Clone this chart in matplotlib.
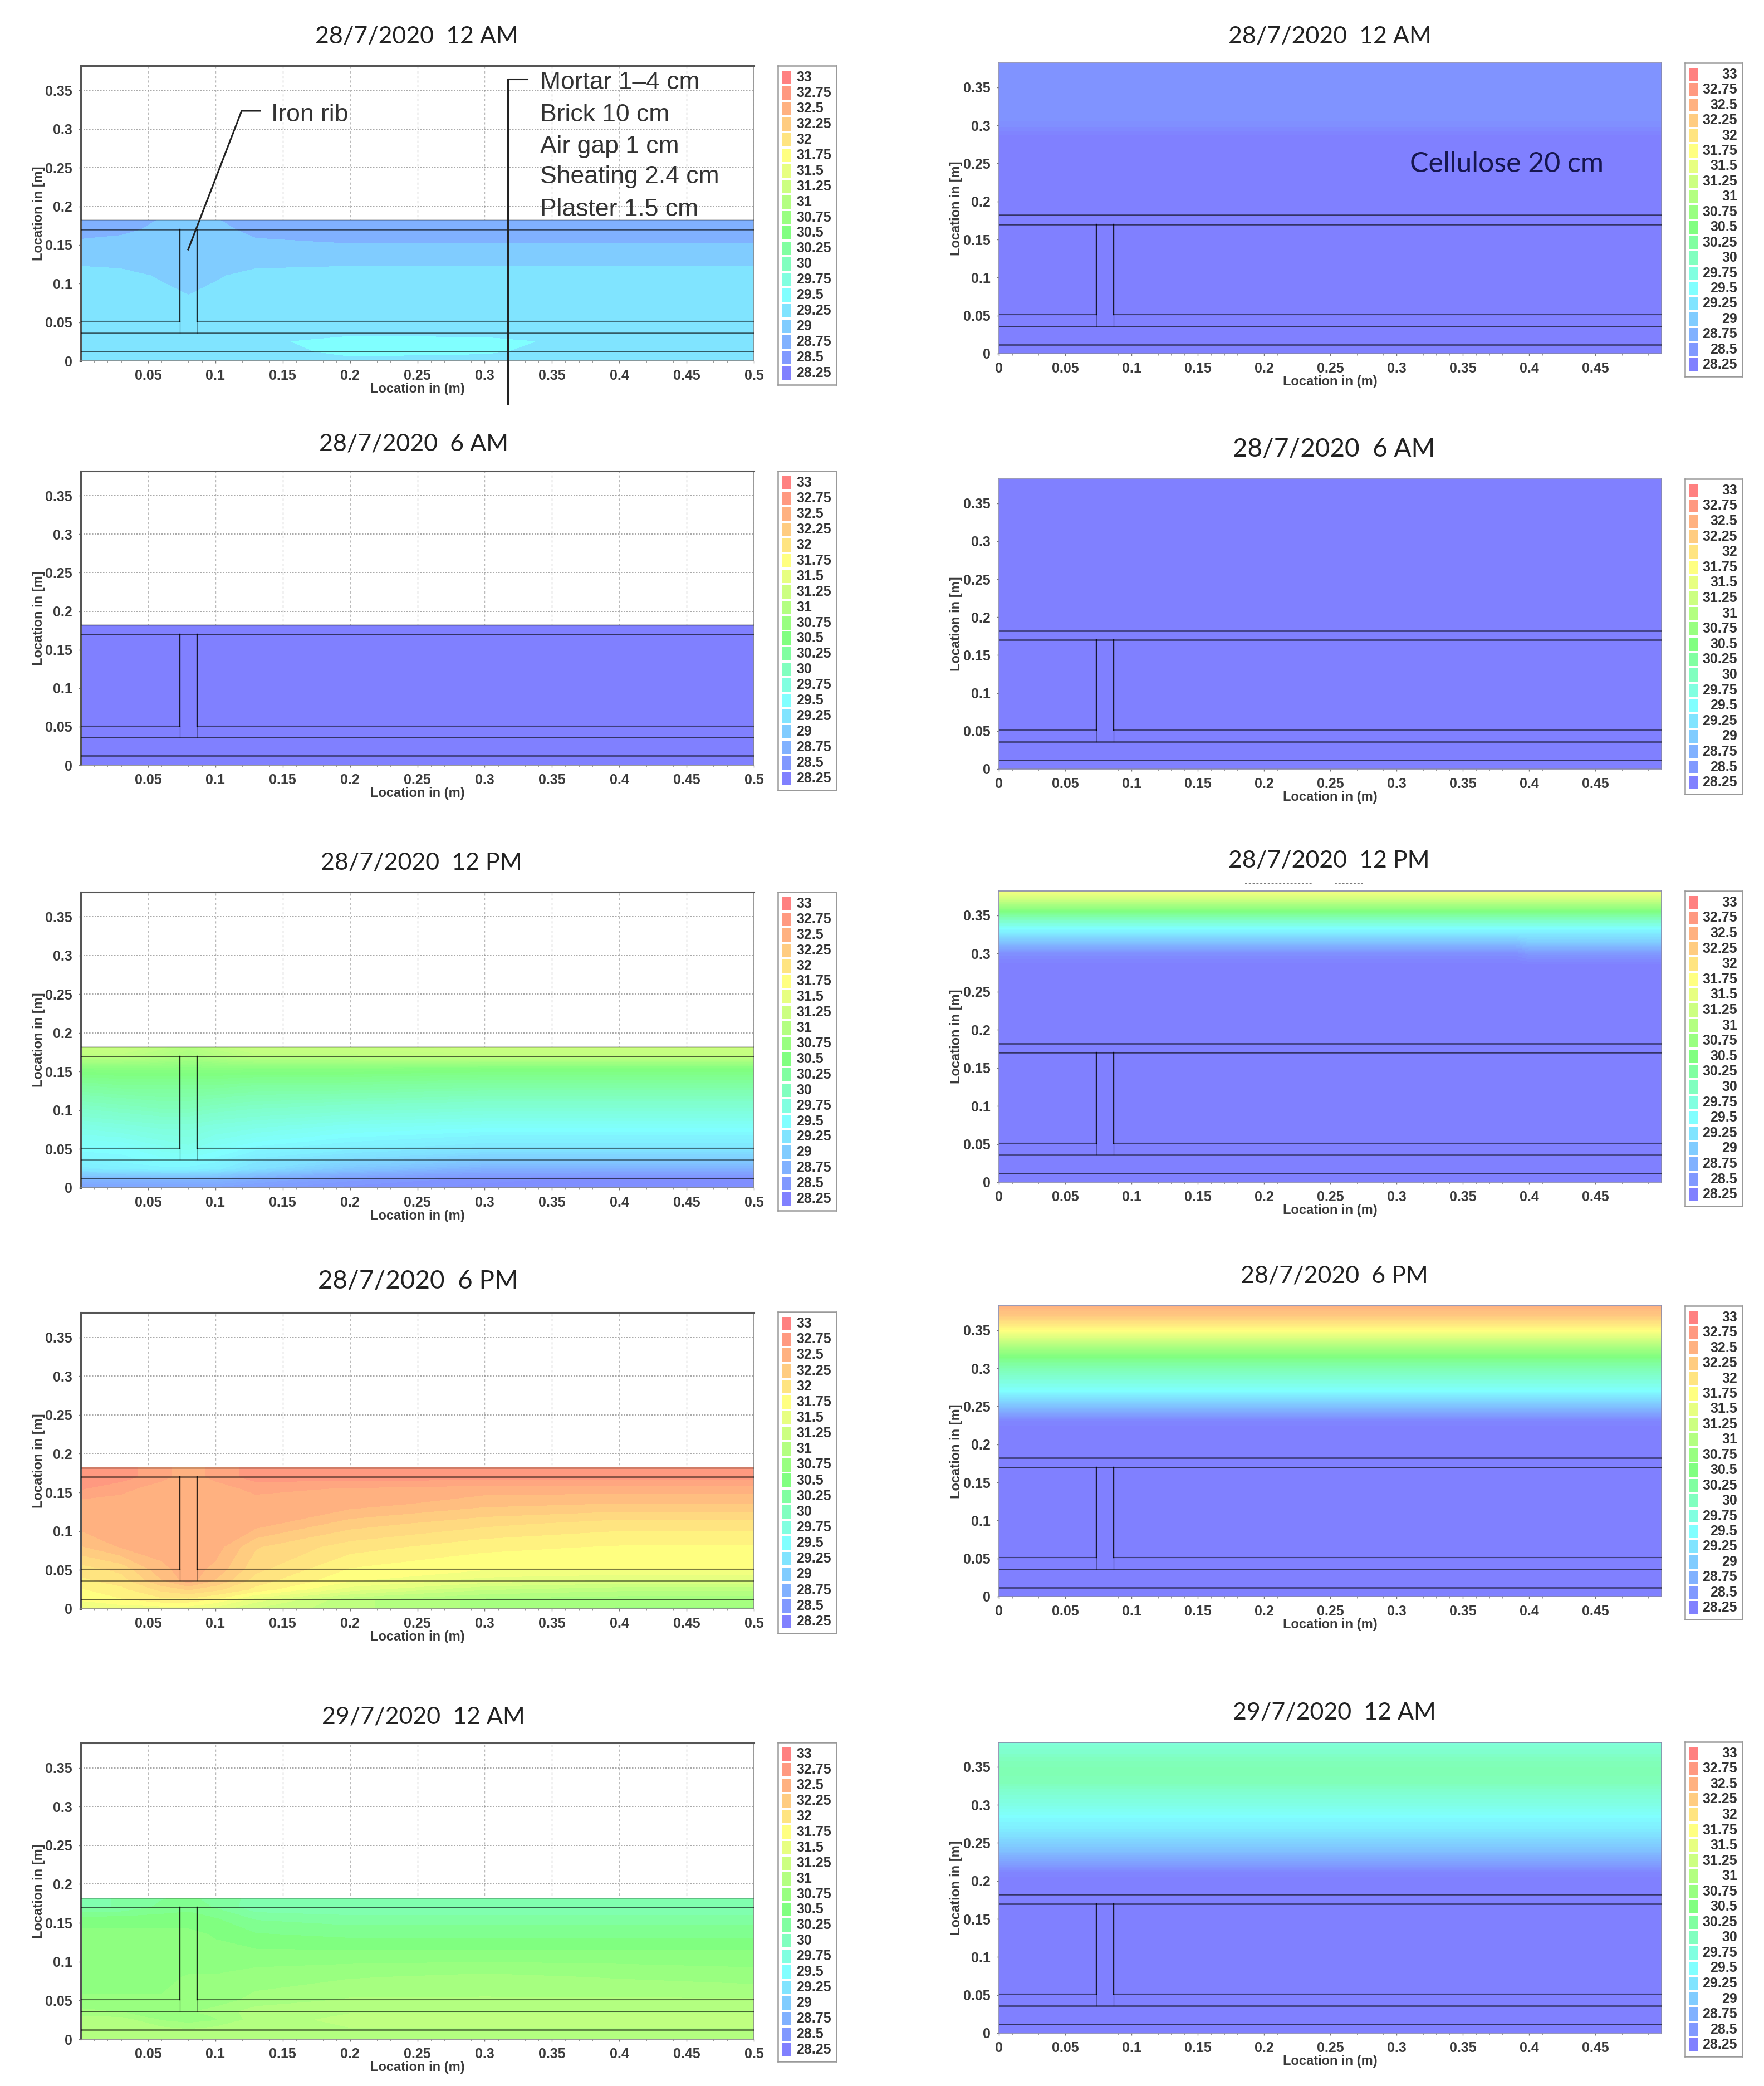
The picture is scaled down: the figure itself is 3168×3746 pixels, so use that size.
import numpy as np
import matplotlib.pyplot as plt
from matplotlib.colors import LinearSegmentedColormap, Normalize
from matplotlib.lines import Line2D
from matplotlib.patches import Rectangle

W, H = 3168, 3746

titles = ['28/7/2020  12 AM', '28/7/2020  6 AM', '28/7/2020  12 PM', '28/7/2020  6 PM', '29/7/2020  12 AM']
legend_values = ['33', '32.75', '32.5', '32.25', '32', '31.75', '31.5', '31.25', '31', '30.75',
                 '30.5', '30.25', '30', '29.75', '29.5', '29.25', '29', '28.75', '28.5', '28.25']
layers = ['Mortar 1–4 cm', 'Brick 10 cm', 'Air gap 1 cm', 'Sheating 2.4 cm', 'Plaster 1.5 cm']

# temperature (rows go bottom to top)
left_x = [0, .03, .06, .08, .1, .13, .2, .3, .4, .5]
left_y = [0, .012, .025, .036, .051, .08, .11, .135, .155, .17, .182]

left_12am = [
    [29.25, 29.25, 29.25, 29.25, 29.25, 29.25, 29.3, 29.3, 29.25, 29.25],
    [29.25, 29.25, 29.25, 29.25, 29.25, 29.25, 29.45, 29.4, 29.25, 29.25],
    [29.25, 29.25, 29.25, 29.25, 29.25, 29.3, 29.5, 29.45, 29.25, 29.25],
    [29.25, 29.25, 29.25, 29.25, 29.25, 29.25, 29.3, 29.3, 29.25, 29.25],
    [29.25, 29.25, 29.25, 29.25, 29.25, 29.25, 29.25, 29.25, 29.25, 29.25],
    [29.25, 29.25, 29.2, 29.15, 29.2, 29.25, 29.25, 29.25, 29.25, 29.25],
    [29.25, 29.2, 29.1, 29.0, 29.1, 29.2, 29.25, 29.25, 29.25, 29.25],
    [29.0, 29.0, 29.0, 29.0, 29.0, 29.0, 29.0, 29.0, 29.0, 29.0],
    [28.9, 28.95, 29.0, 29.0, 29.0, 28.9, 28.85, 28.85, 28.85, 28.85],
    [28.75, 28.8, 28.95, 29.0, 28.95, 28.8, 28.75, 28.75, 28.75, 28.75],
    [28.7, 28.7, 28.9, 29.0, 28.9, 28.7, 28.7, 28.7, 28.7, 28.7],
]
left_6am = [[28.25] * 10 for _ in left_y]
left_12pm = [
    [28.6, 28.6, 28.6, 28.6, 28.6, 28.55, 28.45, 28.4, 28.4, 28.4],
    [28.8, 28.8, 28.8, 28.8, 28.8, 28.7, 28.55, 28.45, 28.4, 28.4],
    [29.3, 29.35, 29.4, 29.4, 29.35, 29.2, 28.95, 28.75, 28.75, 28.75],
    [29.4, 29.45, 29.5, 29.5, 29.45, 29.3, 29.15, 29.0, 29.0, 29.0],
    [29.5, 29.5, 29.6, 29.65, 29.55, 29.45, 29.35, 29.25, 29.25, 29.25],
    [29.7, 29.75, 29.8, 29.8, 29.75, 29.7, 29.6, 29.55, 29.55, 29.55],
    [30.0, 30.05, 30.1, 30.1, 30.05, 30.0, 29.95, 29.9, 29.9, 29.9],
    [30.3, 30.35, 30.35, 30.35, 30.35, 30.3, 30.3, 30.25, 30.25, 30.25],
    [30.6, 30.6, 30.6, 30.6, 30.6, 30.6, 30.6, 30.55, 30.55, 30.55],
    [31.1, 31.1, 31.0, 30.9, 31.0, 31.1, 31.1, 31.15, 31.15, 31.15],
    [31.2, 31.2, 31.1, 31.0, 31.1, 31.2, 31.2, 31.25, 31.25, 31.25],
]
left_6pm = [
    [31.6, 31.6, 31.6, 31.6, 31.5, 31.3, 31.1, 30.9, 30.8, 30.8],
    [31.7, 31.8, 31.9, 31.9, 31.8, 31.5, 31.1, 30.9, 30.85, 30.85],
    [31.8, 31.9, 32.1, 32.2, 32.1, 31.9, 31.5, 31.2, 31.1, 31.1],
    [31.9, 32.0, 32.3, 32.5, 32.3, 32.0, 31.7, 31.5, 31.4, 31.4],
    [32.0, 32.1, 32.4, 32.5, 32.4, 32.1, 31.8, 31.7, 31.7, 31.7],
    [32.3, 32.45, 32.5, 32.5, 32.5, 32.2, 32.0, 31.85, 31.8, 31.8],
    [32.5, 32.5, 32.5, 32.5, 32.5, 32.5, 32.25, 32.1, 32.0, 32.0],
    [32.5, 32.5, 32.5, 32.5, 32.5, 32.5, 32.5, 32.35, 32.3, 32.3],
    [32.7, 32.6, 32.5, 32.5, 32.5, 32.6, 32.55, 32.5, 32.5, 32.5],
    [32.75, 32.75, 32.6, 32.5, 32.6, 32.75, 32.75, 32.75, 32.75, 32.75],
    [32.75, 32.75, 32.6, 32.5, 32.6, 32.75, 32.75, 32.75, 32.75, 32.75],
]
left_next = [
    [31.0, 31.0, 31.0, 31.0, 31.0, 31.0, 31.0, 31.0, 31.0, 31.0],
    [31.0, 31.0, 31.0, 30.95, 31.0, 31.0, 31.05, 31.05, 31.05, 31.05],
    [31.0, 31.0, 30.8, 30.75, 30.8, 31.0, 31.1, 31.1, 31.1, 31.1],
    [30.85, 30.8, 30.8, 30.8, 30.85, 31.0, 31.05, 31.05, 31.05, 31.05],
    [30.7, 30.7, 30.7, 30.7, 30.75, 30.85, 30.95, 30.95, 30.95, 30.95],
    [30.65, 30.65, 30.65, 30.7, 30.7, 30.75, 30.8, 30.85, 30.8, 30.75],
    [30.6, 30.6, 30.6, 30.6, 30.6, 30.6, 30.6, 30.6, 30.6, 30.6],
    [30.6, 30.6, 30.6, 30.6, 30.55, 30.45, 30.4, 30.4, 30.4, 30.4],
    [30.5, 30.5, 30.5, 30.5, 30.45, 30.3, 30.25, 30.25, 30.25, 30.25],
    [30.15, 30.2, 30.35, 30.4, 30.3, 30.1, 30.05, 30.05, 30.05, 30.05],
    [30.15, 30.2, 30.3, 30.35, 30.25, 30.15, 30.15, 30.15, 30.15, 30.15],
]

# right column barely changes along x, so one profile per panel (12 PM has a step near x=0.4)
right_x = [0, .39, .4, .5]
right_y = [0, .2, .21, .22, .23, .24, .25, .26, .27, .285, .3, .315, .33, .345, .355, .37, .382]
right_12am = [28.25, 28.25, 28.25, 28.25, 28.25, 28.25, 28.25, 28.25, 28.25, 28.25, 28.4, 28.47, 28.47, 28.47, 28.47, 28.47, 28.47]
right_6am = [28.25] * 17
right_12pm = [28.25, 28.25, 28.25, 28.25, 28.25, 28.25, 28.25, 28.25, 28.25, 28.25, 28.4, 28.9, 29.4, 30.0, 30.5, 31.2, 31.7]
right_12pm_east = [28.25, 28.25, 28.25, 28.25, 28.25, 28.25, 28.25, 28.25, 28.25, 28.25, 28.5, 29.0, 29.4, 30.0, 30.5, 31.2, 31.7]
right_6pm = [28.25, 28.25, 28.25, 28.25, 28.3, 28.6, 28.9, 29.2, 29.5, 29.8, 30.1, 30.5, 31.0, 31.6, 31.9, 32.3, 32.5]
right_next = [28.25, 28.25, 28.3, 28.5, 28.7, 28.9, 29.05, 29.2, 29.35, 29.5, 29.7, 29.85, 30.05, 30.1, 30.05, 29.9, 29.8]

left_data = [left_12am, left_6am, left_12pm, left_6pm, left_next]
right_data = [right_12am, right_6am, right_12pm, right_6pm, right_next]
right_east = [right_12am, right_6am, right_12pm_east, right_6pm, right_next]
left_steps = [.25, .25, .05, .125, .125]

# layout in pixels of the full picture
left_boxes = [(118, 648), (846, 1374), (1602, 2133), (2357, 2889), (3130, 3662)]
right_boxes = [(113, 635), (860, 1381), (1600, 2123), (2345, 2867), (3129, 3651)]
left_legends = [(118, 691), (846, 1419), (1602, 2174), (2356, 2933), (3129, 3702)]
right_legends = [(113, 676), (860, 1426), (1600, 2166), (2345, 2908), (3128, 3693)]
left_titles = [(748, 65), (743, 798), (757, 1549), (751, 2301), (760, 3083)]
right_titles = [(2388, 65), (2396, 806), (2387, 1546), (2396, 2292), (2396, 3075)]
left_title_sizes = [31, 31, 31, 33, 31]
right_title_sizes = [31, 33, 31, 31, 31]

cmap = LinearSegmentedColormap.from_list('temp', [
    (0, '#8080ff'), (1.25 / 4.75, '#80ffff'), (2.25 / 4.75, '#80ff80'),
    (3.5 / 4.75, '#ffff80'), (1, '#ff8080')])
norm = Normalize(28.25, 33)

plt.rcParams['font.family'] = ['Liberation Sans', 'DejaVu Sans']
fig = plt.figure(figsize=(W / 100, H / 100), dpi=100)


def fx(px):
    return px / W


def fy(py):
    return 1 - py / H


def add_axes_px(x0, x1, y0, y1):
    return fig.add_axes([fx(x0), fy(y1), (x1 - x0) / W, (y1 - y0) / H])


def draw_structure(ax, top_alpha):
    for y in [.012, .036, .17]:
        ax.plot([0, .5], [y, y], color='k', lw=1.8, alpha=.6, zorder=4)
    ax.plot([0, .5], [.182, .182], color='k', lw=1.8, alpha=top_alpha, zorder=4)
    ax.plot([0, .0735], [.051, .051], color='k', lw=1.5, alpha=.5, zorder=4)
    ax.plot([.0865, .5], [.051, .051], color='k', lw=1.5, alpha=.5, zorder=4)
    for x in [.0735, .0865]:
        ax.plot([x, x], [.051, .17], color='k', lw=1.7, alpha=.8, zorder=4)
        ax.plot([x, x], [.036, .051], color='k', lw=1, alpha=.35, zorder=4)


def style_axes(ax, xticks):
    ax.set_xlim(0, .5)
    ax.set_ylim(0, .382)
    ax.set_xticks(xticks)
    ax.set_xticklabels(['%g' % t for t in xticks])
    yticks = [0, .05, .1, .15, .2, .25, .3, .35]
    ax.set_yticks(yticks)
    ax.set_yticklabels(['%g' % t for t in yticks])
    ax.set_xticks(np.arange(0, .5, .01), minor=True)
    ax.tick_params(axis='both', length=3, width=1, color='#777777', labelsize=18,
                   labelcolor='#3a3a3a', pad=8)
    ax.tick_params(axis='x', which='minor', length=2, width=.7, color='#999999')
    for lab in ax.get_xticklabels() + ax.get_yticklabels():
        lab.set_fontweight('bold')
    ax.set_xlabel('Location in (m)', fontsize=17, fontweight='bold', color='#3a3a3a', labelpad=0)
    ax.set_ylabel('Location in [m]', fontsize=17, fontweight='bold', color='#3a3a3a', labelpad=3)


def draw_legend(x0, x1, y0, y1, right_align):
    lax = add_axes_px(x0, x1, y0, y1)
    lax.set_xlim(x0, x1)
    lax.set_ylim(y1, y0)
    lax.set_xticks([])
    lax.set_yticks([])
    for s in lax.spines.values():
        s.set_color('#999999')
        s.set_linewidth(1.8)
    pitch = (y1 - y0 - 14) / 20
    for i, lab in enumerate(legend_values):
        yc = y0 + 7 + pitch * (i + .5)
        lax.add_patch(Rectangle((x0 + 7, yc - pitch * .43), 17, pitch * .86, color=cmap(norm(float(lab))), lw=0))
        if right_align:
            lax.text(x1 - 9, yc, lab, ha='right', va='center', fontsize=18, fontweight='bold', color='#333333')
        else:
            lax.text(x0 + 33, yc, lab, ha='left', va='center', fontsize=18, fontweight='bold', color='#333333')


# left column
for i in range(5):
    y0, y1 = left_boxes[i]
    ax = add_axes_px(145, 1354, y0, y1)
    levels = np.arange(28.25 - left_steps[i] / 2, 33.2, left_steps[i])
    ax.contourf(left_x, left_y, np.array(left_data[i]), levels=levels, cmap=cmap, norm=norm, extend='both', zorder=2)
    draw_structure(ax, .25)
    ax.grid(True, axis='y', color='#999999', ls=(0, (1.5, 1.5)), lw=1.2)
    ax.grid(True, axis='x', color='#bbbbbb', ls=(0, (3, 3)), lw=1)
    ax.set_axisbelow(True)
    style_axes(ax, [.05, .1, .15, .2, .25, .3, .35, .4, .45, .5])
    ax.yaxis.set_label_coords(-.053, .5)
    for name in ['top', 'left']:
        ax.spines[name].set_color('#555555')
        ax.spines[name].set_linewidth(2.2)
    for name in ['right', 'bottom']:
        ax.spines[name].set_color('#888888')
        ax.spines[name].set_linewidth(1.2)
    draw_legend(1397, 1502, *left_legends[i], False)
    fig.text(fx(left_titles[i][0]), fy(left_titles[i][1]), titles[i], family='Lato', fontsize=left_title_sizes[i],
             ha='center', va='center', color='#222222')

# right column
for i in range(5):
    y0, y1 = right_boxes[i]
    ax = add_axes_px(1794, 2984, y0, y1)
    z = np.column_stack([right_data[i], right_data[i], right_east[i], right_east[i]])
    ax.contourf(right_x, right_y, z, levels=np.arange(28.125, 33.2, .05), cmap=cmap, norm=norm, extend='both', zorder=2)
    draw_structure(ax, .6)
    style_axes(ax, [0, .05, .1, .15, .2, .25, .3, .35, .4, .45])
    ax.yaxis.set_label_coords(-.055, .5)
    for s in ax.spines.values():
        s.set_color('#8888aa')
        s.set_linewidth(1.2)
    draw_legend(3026, 3129, *right_legends[i], True)
    fig.text(fx(right_titles[i][0]), fy(right_titles[i][1]), titles[i], family='Lato', fontsize=right_title_sizes[i],
             ha='center', va='center', color='#222222')

# notes on the first row
for py, lab in zip([149, 207, 263, 318, 376], layers):
    fig.text(fx(970), fy(py), lab, fontsize=32, ha='left', va='center', color='#333333', zorder=10)
fig.text(fx(487), fy(207), 'Iron rib', fontsize=32, ha='left', va='center', color='#333333', zorder=10)
fig.text(fx(2532), fy(295), 'Cellulose 20 cm', family='Lato', fontsize=36, ha='left', va='center',
         color='#16164f', zorder=10)
fig.add_artist(Line2D([fx(338), fx(434), fx(467)], [fy(448), fy(199), fy(199)], color='#222222', lw=2.2, zorder=10))
fig.add_artist(Line2D([fx(912), fx(912), fx(947)], [fy(725), fy(142), fy(142)], color='#222222', lw=2.2, zorder=10))

# leftover specks under the right 12 PM title
for x0, x1 in [(2236, 2357), (2397, 2448)]:
    fig.add_artist(Line2D([fx(x0), fx(x1)], [fy(1587), fy(1587)], color='#777777', lw=1.4, ls=(0, (2, 1.5))))

fig.savefig('out.png', dpi=100)
